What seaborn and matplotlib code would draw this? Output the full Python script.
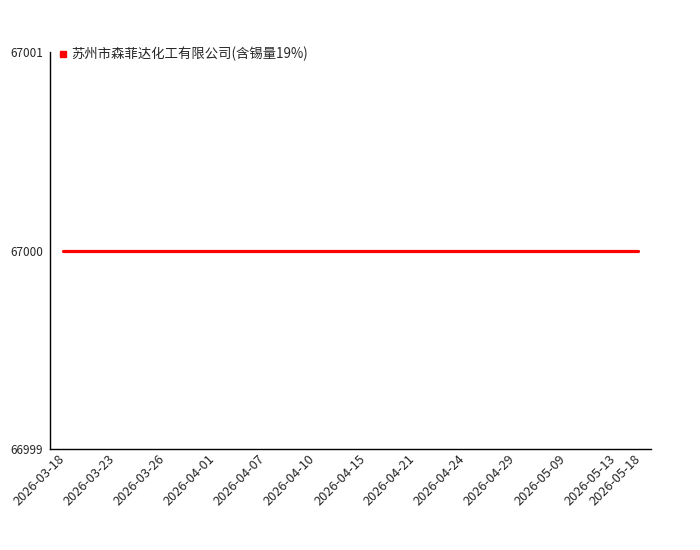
import pandas as pd
import matplotlib
matplotlib.use("Agg")
import matplotlib.pyplot as plt
from matplotlib.lines import Line2D
import seaborn as sns

# category dates on the x axis (every other one labelled in the source chart)
dates = [
    "2026-03-18", "2026-03-20", "2026-03-23", "2026-03-24", "2026-03-26", "2026-03-30",
    "2026-04-01", "2026-04-03", "2026-04-07", "2026-04-08", "2026-04-10", "2026-04-13",
    "2026-04-15", "2026-04-17", "2026-04-21", "2026-04-22", "2026-04-24", "2026-04-27",
    "2026-04-29", "2026-05-07", "2026-05-09", "2026-05-11", "2026-05-13", "2026-05-18",
]
prices = [67000] * len(dates)
series_name = "苏州市森菲达化工有限公司(含锡量19%)"
y_ticks = [66999, 67000, 67001]

sns.set_style("white")
plt.rcParams["font.family"] = ["Noto Sans CJK SC", "DejaVu Sans"]

df = pd.DataFrame({"date": dates, "price": prices})
df["pos"] = range(len(df))

fig = plt.figure(figsize=(7, 5.5), dpi=100)
ax = fig.add_axes([50 / 700, 1 - 449 / 550, 601 / 700, 397 / 550])

sns.lineplot(data=df, x="pos", y="price", color="#ff0000", linewidth=2.3, ax=ax, legend=False)

ax.set_xlim(-0.52, len(dates) - 1 + 0.52)
ax.set_ylim(66999, 67001)
ax.set_yticks(y_ticks)
ax.set_yticklabels([str(v) for v in y_ticks], fontsize=8.5)

ax.set_xticks(range(len(dates)))
shown = [d if (i % 2 == 0 or i == len(dates) - 1) else "" for i, d in enumerate(dates)]
ax.set_xticklabels(shown, rotation=45, ha="right", va="center", rotation_mode="anchor", fontsize=9.2)

ax.tick_params(axis="x", direction="inout", length=5, width=1, color="#666666", pad=3)
ax.tick_params(axis="y", direction="inout", length=6, width=1, color="black", pad=2)

for side in ["top", "right"]:
    ax.spines[side].set_visible(False)
for side in ["left", "bottom"]:
    ax.spines[side].set_color("black")
    ax.spines[side].set_linewidth(1)

ax.set_xlabel("")
ax.set_ylabel("")
ax.grid(False)

handle = Line2D([], [], linestyle="none", marker="s", markersize=4.5, color="#ff0000")
ax.legend([handle], [series_name], loc="upper left", bbox_to_anchor=(0.0, 1.037),
          frameon=False, fontsize=9.6, handlelength=0.6, handletextpad=0.3, borderaxespad=0.3)

fig.savefig("out.png", dpi=100)
